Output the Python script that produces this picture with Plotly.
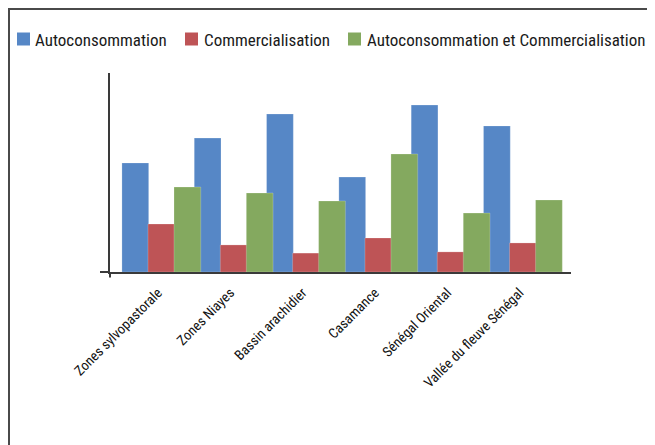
import plotly.graph_objects as go

categories = ["Zones sylvopastorale", "Zones Niayes", "Bassin arachidier",
              "Casamance", "Sénégal Oriental", "Vallée du fleuve Sénégal"]
autoconsommation = [54.8, 67.3, 79.4, 47.7, 83.9, 73.4]
commercialisation = [24.1, 13.6, 9.5, 17.1, 10.1, 14.6]
auto_et_comm = [42.7, 39.7, 35.7, 59.3, 29.6, 36.2]

series = [
    ("Autoconsommation", autoconsommation, "#5687C6"),
    ("Commercialisation", commercialisation, "#BE5456"),
    ("Autoconsommation et Commercialisation", auto_et_comm, "#84A95F"),
]

FONT = "Roboto Condensed, Liberation Sans, sans-serif"

# the page adds an 8px body margin; layout decorations measured in screen px
OFF = 8
L, R, T, B = 110 - OFF, 571 - OFF, 73 - OFF, 272 - OFF
W, H = 655, 445

def px(xs):
    return (xs - OFF - L) / (R - L)

def py(ys):
    return (B - (ys - OFF)) / (B - T)

fig = go.Figure()
offsets = [-0.54, -0.18, 0.18]
for (name, vals, col), off in zip(series, offsets):
    fig.add_trace(go.Bar(
        x=list(range(len(categories))), y=vals, name=name,
        marker=dict(color=col, line=dict(color="rgba(255,255,255,0.35)", width=0.6)),
        width=0.37, offset=off, showlegend=False,
    ))

# manual legend (square + label), screen-pixel positions
legend_sq = [17, 185, 348]
legend_tx = [34, 203, 366]
shapes = []
annotations = []
for (name, vals, col), sx, tx in zip(series, legend_sq, legend_tx):
    shapes.append(dict(type="rect", xref="paper", yref="paper",
                       x0=px(sx), x1=px(sx + 13), y0=py(45.5), y1=py(32.5),
                       fillcolor=col, line=dict(width=0)))
    annotations.append(dict(xref="paper", yref="paper", x=px(tx), y=py(39.5),
                            xanchor="left", yanchor="middle", showarrow=False,
                            text=name, borderpad=0,
                            font=dict(size=17, family=FONT, color="#1a1a1a")))

shapes += [
    dict(type="line", xref="x domain", yref="y domain",
         x0=0, x1=0, y0=0, y1=-0.028,
         line=dict(color="#3a3a3a", width=2)),
    dict(type="rect", xref="paper", yref="paper",
         x0=px(9), x1=px(720), y0=py(500), y1=py(9),
         line=dict(color="#4a4a4a", width=2), fillcolor="rgba(0,0,0,0)",
         layer="below"),
]

fig.update_layout(
    width=W, height=H,
    margin=dict(l=L, r=W - R, t=T, b=H - B, autoexpand=False),
    paper_bgcolor="white", plot_bgcolor="white",
    barmode="overlay",
    font=dict(family=FONT, color="#222222"),
    showlegend=False,
    xaxis=dict(
        range=[-0.705, 5.67],
        tickmode="array",
        tickvals=list(range(len(categories))),
        ticktext=categories,
        tickangle=-45,
        tickfont=dict(size=14, family=FONT, color="#111111"),
        ticklabelshift=-3, ticklabelstandoff=5,
        showline=True, linecolor="#3a3a3a", linewidth=2,
        showgrid=False, zeroline=False, ticks="", automargin=False,
    ),
    yaxis=dict(
        range=[0, 100],
        showline=True, linecolor="#3a3a3a", linewidth=2,
        showgrid=False, zeroline=False,
        showticklabels=False,
        tickmode="array", tickvals=[0], ticks="outside", ticklen=8,
        tickcolor="#3a3a3a", tickwidth=2, automargin=False,
    ),
    shapes=shapes,
    annotations=annotations,
)

fig.write_html("out.html")
